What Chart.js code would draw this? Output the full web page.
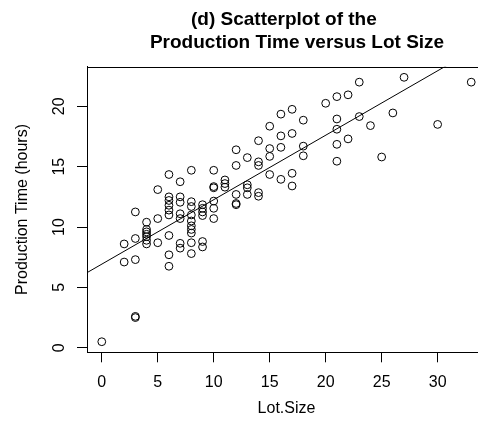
<!DOCTYPE html>
<html>
<head>
<meta charset="utf-8">
<script src="https://cdn.jsdelivr.net/npm/chart.js@4/dist/chart.umd.min.js"></script>
<style>
  html, body { margin: 0; padding: 0; overflow: hidden; background: #fff; }
</style>
</head>
<body>
<canvas id="chart" width="500" height="428"></canvas>
<script>
// values
const lotSize = [
  0,
  2, 2,
  3, 3, 3, 3, 3,
  4, 4, 4, 4, 4, 4, 4,
  5, 5, 5,
  6, 6, 6, 6, 6, 6, 6, 6, 6,
  7, 7, 7, 7, 7, 7, 7,
  8, 8, 8, 8, 8, 8, 8, 8, 8, 8,
  9, 9, 9, 9, 9, 9,
  10, 10, 10, 10, 10, 10,
  11, 11, 11,
  12, 12, 12, 12, 12,
  13, 13, 13, 13,
  14, 14, 14, 14, 14,
  15, 15, 15, 15,
  16, 16, 16, 16,
  17, 17, 17, 17,
  18, 18, 18,
  20,
  21, 21, 21, 21, 21,
  22, 22,
  23, 23,
  24, 25, 26, 27, 30, 33
];
const prodTime = [
  0.5,
  8.6, 7.1,
  11.25, 9.05, 7.3, 2.6, 2.5,
  10.4, 9.8, 9.6, 9.4, 9.2, 8.9, 8.6,
  13.1, 10.7, 8.7,
  14.35, 12.5, 12.2, 11.8, 11.4, 11.0, 9.3, 7.7, 6.75,
  13.75, 12.5, 12.05, 11.1, 10.7, 8.65, 8.25,
  14.7, 12.1, 11.7, 11.0, 10.5, 10.1, 9.8, 9.5, 8.7, 7.8,
  11.85, 11.55, 11.25, 10.95, 8.8, 8.35,
  14.7, 13.35, 13.25, 12.15, 11.55, 10.7,
  13.9, 13.6, 13.3,
  16.4, 15.1, 12.7, 11.95, 11.85,
  15.75, 13.5, 13.25, 12.7,
  17.15, 15.4, 15.1, 12.85, 12.55,
  18.35, 16.5, 15.85, 14.35,
  19.35, 17.55, 16.6, 13.95,
  19.75, 17.75, 14.45, 13.4,
  18.85, 16.7, 15.9,
  20.25,
  20.8, 18.95, 18.1, 16.85, 15.45,
  20.95, 17.3,
  22.0, 19.15,
  18.4, 15.8, 19.45, 22.4, 18.5, 22.0
];
// fitted line, endpoints at the plot edges
const fitX = [-1.32, 34.32];
const fitY = [6.22, 25.25];

const xTicks = [0, 5, 10, 15, 20, 25, 30];
const yTicks = [0, 5, 10, 15, 20];

const titleLines = ["(d) Scatterplot of the ", "    Production Time versus Lot Size"];
const xLabel = "Lot.Size";
const yLabel = "Production Time (hours)";

const FONT = "'Liberation Sans', Arial, Helvetica, sans-serif";

// R style decorations: top of box, rotated y labels, axis titles, main title
const rDecor = {
  id: "rDecor",
  afterDraw(chart) {
    const { ctx, chartArea: a, scales } = chart;
    const cx = (a.left + a.right) / 2;
    ctx.save();
    ctx.strokeStyle = "#000";
    ctx.lineWidth = 1;
    ctx.beginPath();
    ctx.moveTo(a.left, Math.round(a.top) + 0.5);
    ctx.lineTo(a.right, Math.round(a.top) + 0.5);
    ctx.stroke();

    ctx.fillStyle = "#000";
    ctx.textAlign = "center";
    ctx.textBaseline = "alphabetic";

    ctx.font = "16px " + FONT;
    yTicks.forEach(v => {
      ctx.save();
      ctx.translate(63.5, scales.y.getPixelForValue(v));
      ctx.rotate(-Math.PI / 2);
      ctx.fillText(String(v), 0, 0);
      ctx.restore();
    });

    ctx.save();
    ctx.translate(26.5, (a.top + a.bottom) / 2);
    ctx.rotate(-Math.PI / 2);
    ctx.fillText(yLabel, 0, 0);
    ctx.restore();

    ctx.fillText(xLabel, cx, 412.5);

    ctx.font = "bold 19px " + FONT;
    ctx.fillText(titleLines[0], cx, 25);
    ctx.fillText(titleLines[1], cx, 48);
    ctx.restore();
  }
};

const axisGrid = { drawOnChartArea: false, drawTicks: true, tickLength: 10, color: "#000", lineWidth: 1 };
const axisBorder = { display: true, color: "#000", width: 1 };

new Chart(document.getElementById("chart"), {
  type: "scatter",
  data: {
    datasets: [{
      type: "scatter",
      data: lotSize.map((v, i) => ({ x: v, y: prodTime[i] })),
      pointRadius: 3.9,
      pointBorderWidth: 1,
      pointBorderColor: "#000",
      pointBackgroundColor: "rgba(0,0,0,0)"
    }, {
      type: "line",
      data: fitX.map((v, i) => ({ x: v, y: fitY[i] })),
      borderColor: "#000",
      borderWidth: 1,
      pointRadius: 0,
      fill: false,
      tension: 0
    }]
  },
  options: {
    responsive: false,
    animation: false,
    events: [],
    layout: { padding: { left: 0, right: 14, top: 66.7, bottom: 0 } },
    plugins: {
      legend: { display: false },
      title: { display: false },
      tooltip: { enabled: false }
    },
    scales: {
      x: {
        type: "linear",
        position: "bottom",
        min: -1.32,
        max: 34.32,
        afterBuildTicks: s => { s.ticks = xTicks.map(v => ({ value: v })); },
        afterFit: s => { s.height = 75.7; },
        ticks: {
          color: "#000",
          font: { family: FONT, size: 16 },
          padding: 10.5,
          maxRotation: 0,
          autoSkip: false
        },
        grid: axisGrid,
        border: axisBorder
      },
      y: {
        type: "linear",
        min: -0.376,
        max: 23.28,
        afterBuildTicks: s => { s.ticks = yTicks.map(v => ({ value: v })); },
        afterFit: s => { s.width = 87; },
        ticks: { display: false },
        grid: axisGrid,
        border: axisBorder
      }
    }
  },
  plugins: [rDecor]
});
</script>
</body>
</html>
